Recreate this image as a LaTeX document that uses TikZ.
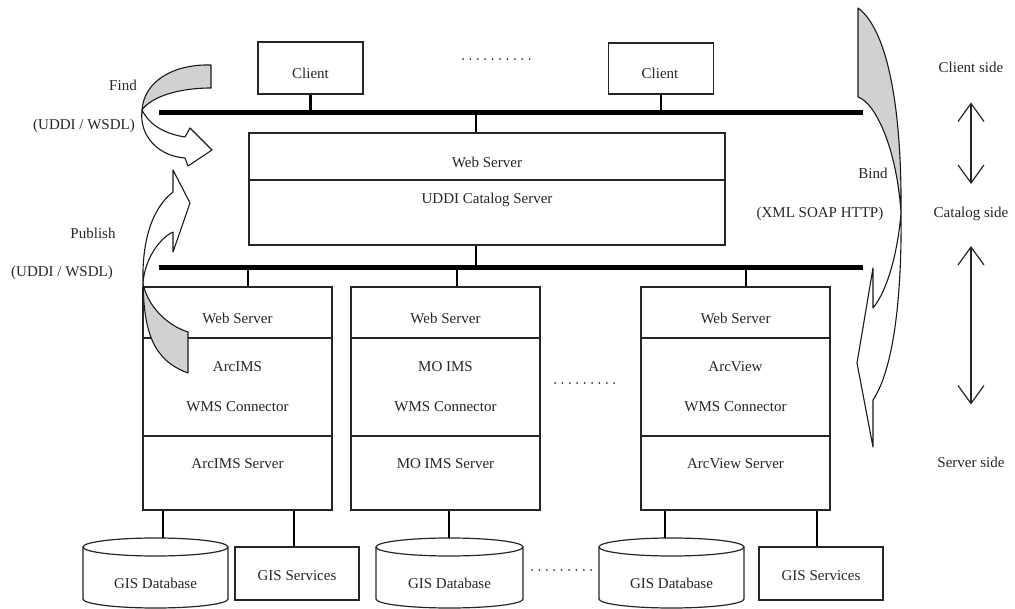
\documentclass[tikz,border=0pt]{standalone}
\usepackage{fontspec}
\setmainfont{Liberation Serif}
\usetikzlibrary{arrows.meta}
\newcommand\gisdb[3]{% #1 centre x, #2 half width, #3 name
  \draw[box] (#1-#2,547) -- (#1-#2,599) arc[start angle=180,end angle=360,x radius=#2pt,y radius=9pt] -- (#1+#2,547);
  \draw[box] (#1,547) ellipse[x radius=#2pt,y radius=9pt];
  \node[lbl] (#3) at (#1,583) {GIS Database};
  \coordinate (#3top) at (#1,538);
}
\newcommand\srvbox[6]{% #1 centre x, #2 name, #3 middle line 1, #4 bottom text
  \node[box, minimum width=189pt, minimum height=223pt] (#2) at (#1,398.5) {};
  \draw[sep] (#1-94.5,338) -- (#1+94.5,338);
  \draw[sep] (#1-94.5,436) -- (#1+94.5,436);
  \node[lbl] (#2ws) at (#1,318) {Web Server};
  \node[lbl] (#2nm) at (#1,367) {#3};
  \node[lbl] (#2wc) at (#1,407) {WMS Connector};
  \node[lbl] (#2sv) at (#1,464) {#4};
}
\begin{document}
\begin{tikzpicture}[x=1pt,y=-1pt,
  lbl/.style={font=\fontsize{15}{18}\selectfont, text=black!85, inner sep=0pt},
  box/.style={draw=black!85, line width=1.2pt, fill=white, inner sep=0pt},
  sep/.style={draw=black!85, line width=1.2pt},
  bus/.style={line width=5pt, draw=black},
  drop/.style={line width=2.5pt, draw=black},
  ribbon/.style={draw=black!90, line width=1.1pt, line join=round},
  shade/.style={ribbon, fill=black!18},
  plain/.style={ribbon, fill=white},
  dbl/.style={line width=1.2pt, draw=black!85, {Straight Barb[length=18pt,width=26pt]}-{Straight Barb[length=18pt,width=26pt]}},
  dotrow/.style={line width=2pt, line cap=round, dash pattern=on 0pt off 7.4pt, draw=black!80}
]
\useasboundingbox (0,0) rectangle (1015,609);
\fill[white] (0,0) rectangle (1015,609);

% bus end points
\coordinate (TBw) at (159,113); \coordinate (TBe) at (863,113);
\coordinate (LBw) at (159,268); \coordinate (LBe) at (863,268);

% clients
\node[box, minimum width=105pt, minimum height=52pt] (c1) at (310.5,68) {};
\node[box, minimum width=105pt, minimum height=51pt] (c2) at (661,68.5) {};
\node[lbl] (c1t) at (310.5,73) {Client};
\node[lbl] (c2t) at (660,73) {Client};

% catalog server
\node[box, minimum width=476pt, minimum height=112pt] (cat) at (487,189) {};
\draw[sep] (249,180) -- (725,180);
\node[lbl] (catws) at (487,162) {Web Server};
\node[lbl] (catud) at (487,200) {UDDI Catalog Server};

% map servers
\srvbox{237.5}{arcims}{ArcIMS}{ArcIMS Server}{}{}
\srvbox{445.5}{moims}{MO IMS}{MO IMS Server}{}{}
\srvbox{735.5}{arcview}{ArcView}{ArcView Server}{}{}

% databases and services
\gisdb{155.5}{72.5}{db1}
\gisdb{449.5}{73.5}{db2}
\gisdb{671.5}{72.5}{db3}
\node[box, minimum width=124pt, minimum height=53pt] (gs1) at (297,573.5) {};
\node[box, minimum width=124pt, minimum height=53pt] (gs2) at (821,573.5) {};
\node[lbl] (gs1t) at (297,576) {GIS Services};
\node[lbl] (gs2t) at (821,576) {GIS Services};

% drops
\coordinate (xk) at (476,0);
\coordinate (x1) at (248,0); \coordinate (x2) at (457,0); \coordinate (x3) at (746,0);
\coordinate (d1) at (163,0); \coordinate (d2) at (294,0); \coordinate (d3) at (449,0);
\coordinate (d4) at (665,0); \coordinate (d5) at (817,0);
\draw[drop] (c1.south) -- (c1.south |- TBw);
\draw[drop] (c2.south) -- (c2.south |- TBw);
\draw[drop] (xk |- TBw) -- (xk |- cat.north);
\draw[drop] (xk |- cat.south) -- (xk |- LBw);
\draw[drop] (x1 |- LBw) -- (x1 |- arcims.north);
\draw[drop] (x2 |- LBw) -- (x2 |- moims.north);
\draw[drop] (x3 |- LBw) -- (x3 |- arcview.north);
\draw[drop] (d1 |- arcims.south) -- (d1 |- db1top);
\draw[drop] (d2 |- arcims.south) -- (d2 |- gs1.north);
\draw[drop] (d3 |- moims.south) -- (d3 |- db2top);
\draw[drop] (d4 |- arcview.south) -- (d4 |- db3top);
\draw[drop] (d5 |- arcview.south) -- (d5 |- gs2.north);

% buses
\draw[bus] (TBw) -- (TBe);
\draw[bus] (LBw) -- (LBe);

% dotted gaps
\draw[dotrow] (463,59) -- (531,59);
\draw[dotrow] (555,383) -- (615,383);
\draw[dotrow] (532,570) -- (592,570);

% Find ribbon arrow
\draw[shade] (211,65) -- (211,88) .. controls (178,88) and (151,97) .. (142,110) .. controls (144,82) and (172,64) .. (211,65) -- cycle;
\draw[plain] (142,110) .. controls (150,126) and (166,134) .. (185,137) -- (190,128) -- (212,150) -- (188,166) -- (185,158) .. controls (158,156) and (139,136) .. (142,110) -- cycle;

% Publish ribbon arrow
\draw[shade] (143,283) .. controls (144,330) and (152,360) .. (188,373) -- (188,332) .. controls (166,325) and (147,305) .. (143,283) -- cycle;
\draw[plain] (143,283) .. controls (142,245) and (150,210) .. (173,192) -- (173,170) -- (190,203) -- (173,252) -- (173,232) .. controls (160,238) and (145,258) .. (143,283) -- cycle;
\draw[sep] (arcims.north west) -- (arcims.south west);

% Bind ribbon arrow
\draw[shade] (858,8) -- (858,97) .. controls (876,103) and (897,150) .. (901,213) .. controls (902,110) and (888,30) .. (858,8) -- cycle;
\draw[plain] (901,213) .. controls (902,300) and (893,370) .. (873,400) -- (873,447) -- (857,363) -- (873,268) -- (873,308) .. controls (888,290) and (898,250) .. (901,213) -- cycle;

% labels
\node[lbl] (find) at (123,85) {Find};
\node[lbl] (fw) at (84,126) {(UDDI / WSDL)};
\node[lbl] (pub) at (93,233) {Publish};
\node[lbl] (pw) at (62,273) {(UDDI / WSDL)};
\node[lbl] (bind) at (873,173) {Bind};
\node[lbl] (xml) at (820,214) {(XML SOAP HTTP)};
\node[lbl] (cs) at (971,67) {Client side};
\node[lbl] (cts) at (971,214) {Catalog side};
\node[lbl] (ss) at (971,462) {Server side};

% side arrows
\draw[dbl, shorten <=30pt, shorten >=23pt] (cs.south) -- (cts.north);
\draw[dbl, shorten <=25pt, shorten >=52pt] (cts.south) -- (ss.north);
\end{tikzpicture}
\end{document}
